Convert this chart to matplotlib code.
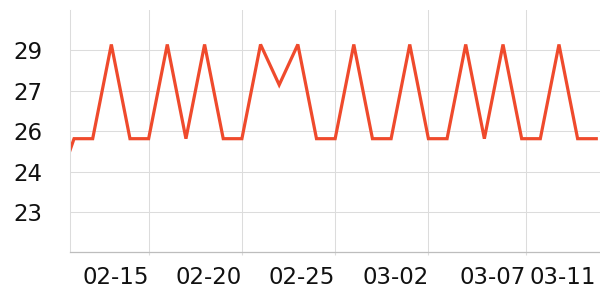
import matplotlib
matplotlib.use('Agg')
import matplotlib.pyplot as plt
import pandas as pd
from matplotlib.ticker import FuncFormatter

# data: one value per day, first one (02-10) falls just left of the axis
dates = pd.date_range('2023-02-10', '2023-03-11', freq='D')
temps = [23.5, 25.5, 25.5, 29, 25.5, 25.5, 29, 25.5, 29, 25.5,
         25.5, 29, 27.5, 29, 25.5, 25.5, 29, 25.5, 25.5, 29,
         25.5, 25.5, 29, 25.5, 29, 25.5, 25.5, 29, 25.5, 25.5]

xtick_dates = pd.to_datetime(['2023-02-15 00:00', '2023-02-20 00:00', '2023-02-25 00:00',
                              '2023-03-02 00:00', '2023-03-07 06:00', '2023-03-11 00:00'])
xtick_labels = ['02-15', '02-20', '02-25', '03-02', '03-07', '03-11']
ytick_vals = [28.78, 27.28, 25.78, 24.28, 22.78]

line_color = '#ef4a2c'
grid_color = '#dcdcdc'

fig = plt.figure(figsize=(6, 3), dpi=100)
ax = fig.add_axes([70.3 / 600, 47.7 / 300, (600 - 70.3) / 600, 242.3 / 300])

ax.plot(dates, temps, color=line_color, lw=2.3, solid_joinstyle='miter')

ax.set_xlim(pd.Timestamp('2023-02-11') - pd.Timedelta(hours=4.8),
            pd.Timestamp('2023-03-11') + pd.Timedelta(hours=4.8))
ax.set_ylim(21.28, 30.28)

ax.set_xticks(xtick_dates)
ax.set_xticklabels(xtick_labels, ha='right')
ax.set_yticks(ytick_vals)
ax.yaxis.set_major_formatter(FuncFormatter(lambda v, p: '%d' % round(v)))

ax.grid(True, color=grid_color, lw=0.75)
ax.set_axisbelow(True)
# no gridline / tick for the last label
ax.xaxis.get_gridlines()[-1].set_visible(False)
ax.xaxis.get_major_ticks()[-1].tick1line.set_visible(False)

for s in ['top', 'right']:
    ax.spines[s].set_visible(False)
ax.spines['left'].set_color(grid_color)
ax.spines['left'].set_linewidth(0.75)
ax.spines['bottom'].set_color('#bdbdbd')
ax.spines['bottom'].set_linewidth(0.9)

ax.tick_params(axis='x', length=2, color=grid_color, pad=7.8, labelsize=16.5, labelcolor='#111111')
ax.tick_params(axis='y', length=0, pad=19.9, labelsize=16.5, labelcolor='#111111')

plt.savefig('out.png', dpi=100)
